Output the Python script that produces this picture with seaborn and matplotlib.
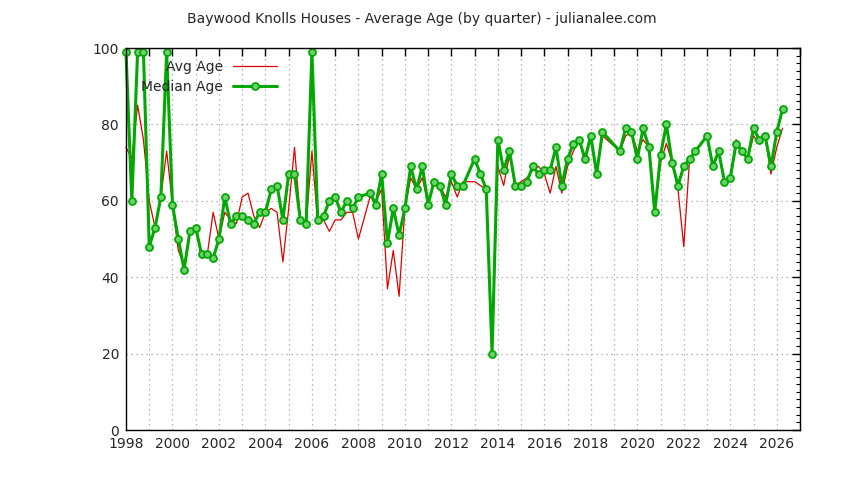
import matplotlib
matplotlib.use("Agg")
from matplotlib import pyplot as plt
from matplotlib.ticker import MultipleLocator
import pandas as pd
import seaborn as sns

# quarters present in the data (some quarters have no sales)
quarters = [
    "1998Q1", "1998Q2", "1998Q3", "1998Q4", "1999Q1", "1999Q2", "1999Q3", "1999Q4",
    "2000Q1", "2000Q2", "2000Q3", "2000Q4", "2001Q1", "2001Q2", "2001Q3", "2001Q4",
    "2002Q1", "2002Q2", "2002Q3", "2002Q4", "2003Q1", "2003Q2", "2003Q3", "2003Q4",
    "2004Q1", "2004Q2", "2004Q3", "2004Q4", "2005Q1", "2005Q2", "2005Q3", "2005Q4",
    "2006Q1", "2006Q2", "2006Q3", "2006Q4", "2007Q1", "2007Q2", "2007Q3", "2007Q4",
    "2008Q1", "2008Q3", "2008Q4", "2009Q1", "2009Q2", "2009Q3", "2009Q4",
    "2010Q1", "2010Q2", "2010Q3", "2010Q4", "2011Q1", "2011Q2", "2011Q3", "2011Q4",
    "2012Q1", "2012Q2", "2012Q3", "2013Q1", "2013Q2", "2013Q3", "2013Q4",
    "2014Q1", "2014Q2", "2014Q3", "2014Q4", "2015Q1", "2015Q2", "2015Q3", "2015Q4",
    "2016Q1", "2016Q2", "2016Q3", "2016Q4", "2017Q1", "2017Q2", "2017Q3", "2017Q4",
    "2018Q1", "2018Q2", "2018Q3", "2019Q2", "2019Q3", "2019Q4",
    "2020Q1", "2020Q2", "2020Q3", "2020Q4", "2021Q1", "2021Q2", "2021Q3", "2021Q4",
    "2022Q1", "2022Q2", "2022Q3", "2023Q1", "2023Q2", "2023Q3", "2023Q4",
    "2024Q1", "2024Q2", "2024Q3", "2024Q4", "2025Q1", "2025Q2", "2025Q3", "2025Q4",
    "2026Q1", "2026Q2",
]

avg_age = [
    74, 71, 85, 76, 60, 53, 61, 73,
    59, 47, 43, 52, 53, 45, 46, 57,
    50, 57, 55, 54, 61, 62, 56, 53,
    57, 58, 57, 44, 58, 74, 55, 54,
    73, 54, 55, 52, 55, 55, 57, 57,
    50, 61, 60, 63, 37, 47, 35,
    58, 66, 63, 66, 59, 65, 64, 61,
    65, 61, 65, 65, 64, 63, 20,
    69, 64, 72, 64, 65, 66, 68, 69,
    67, 62, 69, 62, 69, 73, 76, 70,
    77, 67, 77, 73, 77, 78,
    73, 76, 74, 57, 70, 75, 70, 63,
    48, 71, 73, 77, 69, 73, 65,
    66, 76, 73, 71, 77, 75, 77, 67,
    74, 79,
]

median_age = [
    99, 60, 99, 99, 48, 53, 61, 99,
    59, 50, 42, 52, 53, 46, 46, 45,
    50, 61, 54, 56, 56, 55, 54, 57,
    57, 63, 64, 55, 67, 67, 55, 54,
    99, 55, 56, 60, 61, 57, 60, 58,
    61, 62, 59, 67, 49, 58, 51,
    58, 69, 63, 69, 59, 65, 64, 59,
    67, 64, 64, 71, 67, 63, 20,
    76, 68, 73, 64, 64, 65, 69, 67,
    68, 68, 74, 64, 71, 75, 76, 71,
    77, 67, 78, 73, 79, 78,
    71, 79, 74, 57, 72, 80, 70, 64,
    69, 71, 73, 77, 69, 73, 65,
    66, 75, 73, 71, 79, 76, 77, 69,
    78, 84,
]

df = pd.DataFrame({"quarter": quarters, "avg": avg_age, "median": median_age})
df["year"] = df["quarter"].str[:4].astype(int) + (df["quarter"].str[-1].astype(int) - 1) * 0.25

sns.set_style("white")
plt.rcParams["font.family"] = ["DejaVu Sans"]

fig = plt.figure(figsize=(8.44, 4.8), dpi=100)
ax = fig.add_axes([126 / 844, 1 - 430 / 480, 674 / 844, 382 / 480])

sns.lineplot(data=df, x="year", y="avg", ax=ax, color="#e00000", linewidth=0.9,
             label="Avg Age", sort=False)
sns.lineplot(data=df, x="year", y="median", ax=ax, color="#00a800", linewidth=2.2,
             marker="o", markersize=5, markerfacecolor="#6fd06f", markeredgecolor="#00a800",
             markeredgewidth=1.3, label="Median Age", sort=False)

ax.set_xlim(1998, 2027)
ax.set_ylim(0, 100)
ax.xaxis.set_major_locator(MultipleLocator(2))
ax.xaxis.set_minor_locator(MultipleLocator(1))
ax.yaxis.set_major_locator(MultipleLocator(20))
ax.yaxis.set_minor_locator(MultipleLocator(2))
ax.tick_params(which="both", direction="in", top=True, right=True, color="black")
ax.tick_params(which="major", length=6, width=1, labelsize=10, pad=5)
ax.tick_params(which="minor", length=3, width=0.8)
ax.tick_params(axis="x", which="minor", length=6, width=1)
ax.set_xlabel("")
ax.set_ylabel("")

ax.grid(True, axis="x", which="both", color="#a0a0a0", linestyle=(0, (1, 3)), linewidth=0.9)
ax.grid(True, axis="y", which="major", color="#a0a0a0", linestyle=(0, (1, 3)), linewidth=0.9)
ax.set_axisbelow(True)
for sp in ax.spines.values():
    sp.set_color("black")
    sp.set_linewidth(1)
for ln in ax.lines:
    ln.set_clip_on(False)

ax.legend(loc="upper left", bbox_to_anchor=(0.008, 0.995), frameon=False, markerfirst=False,
          fontsize=10, handlelength=3.2, borderpad=0.2, labelspacing=0.45,
          handletextpad=0.7)

fig.text(0.5, 1 - 19 / 480, "Baywood Knolls Houses - Average Age (by quarter) - julianalee.com",
         ha="center", va="center", fontsize=10)

fig.savefig("out.png", dpi=100)
